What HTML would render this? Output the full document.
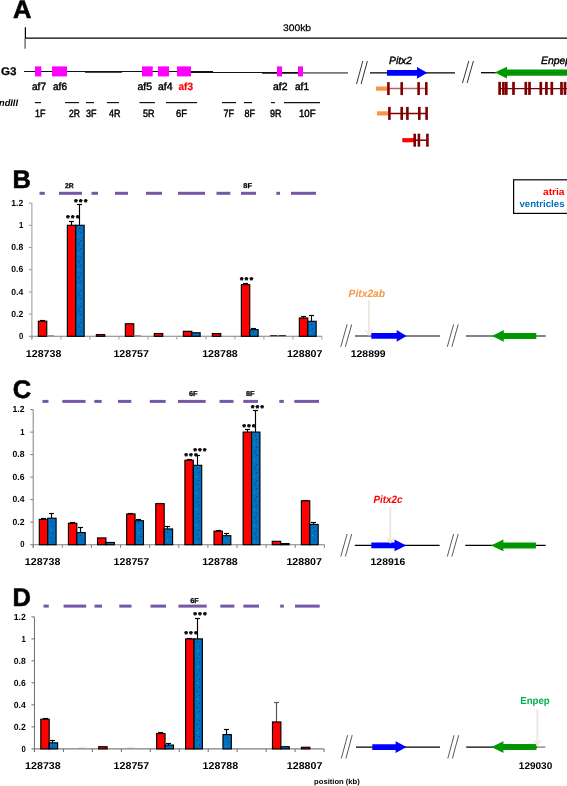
<!DOCTYPE html>
<html lang="en">
<head>
<meta charset="utf-8">
<title>Figure</title>
<style>
html,body{margin:0;padding:0;background:#fff;}
svg{display:block;font-family:"Liberation Sans", Arial, sans-serif;}
svg{will-change:transform;}
</style>
</head>
<body>
<svg width="567" height="786" viewBox="0 0 567 786" text-rendering="geometricPrecision">
<rect width="567" height="786" fill="#fff"/>
<text x="13.1" y="17.8" font-size="25.5" font-weight="bold" font-style="normal" fill="#000" text-anchor="start" stroke="#000" stroke-width="0.6">A</text>
<line x1="25.4" y1="27.3" x2="25.4" y2="38.5" stroke="#000" stroke-width="1.25"/>
<line x1="25.1" y1="38.5" x2="25.1" y2="48.7" stroke="#555" stroke-width="1.25"/>
<line x1="25.3" y1="38.2" x2="567" y2="38.2" stroke="#000" stroke-width="1.3"/>
<text x="283" y="31" font-size="9.5" font-weight="normal" font-style="normal" fill="#000" text-anchor="start" textLength="28" lengthAdjust="spacingAndGlyphs" stroke="#000" stroke-width="0.25">300kb</text>
<text x="1" y="75" font-size="11" font-weight="bold" font-style="normal" fill="#000" text-anchor="start" textLength="15.5" lengthAdjust="spacingAndGlyphs" stroke="#000" stroke-width="0.25">G3</text>
<line x1="24" y1="71.5" x2="213" y2="71.5" stroke="#111" stroke-width="1.1"/>
<line x1="85" y1="72.2" x2="122" y2="72.2" stroke="#111" stroke-width="1.2"/>
<line x1="190" y1="72.5" x2="300" y2="72.5" stroke="#111" stroke-width="1.2"/>
<line x1="262" y1="73.1" x2="300" y2="73.1" stroke="#111" stroke-width="1.3"/>
<line x1="300" y1="72.8" x2="348" y2="72.8" stroke="#777" stroke-width="1.8"/>
<rect x="35" y="66.4" width="6.3" height="10" fill="#ff00ff"/>
<rect x="52" y="66.4" width="15" height="10" fill="#ff00ff"/>
<rect x="142" y="66.4" width="10.7" height="10" fill="#ff00ff"/>
<rect x="158" y="66.4" width="11" height="10" fill="#ff00ff"/>
<rect x="177" y="66.4" width="14" height="10" fill="#ff00ff"/>
<rect x="277" y="66.4" width="5" height="10" fill="#ff00ff"/>
<rect x="298" y="66.4" width="5" height="10" fill="#ff00ff"/>
<text x="32" y="90" font-size="10.5" font-weight="normal" font-style="normal" fill="#000" text-anchor="start" textLength="14" lengthAdjust="spacingAndGlyphs" stroke="#000" stroke-width="0.45">af7</text>
<text x="53" y="90" font-size="10.5" font-weight="normal" font-style="normal" fill="#000" text-anchor="start" textLength="14" lengthAdjust="spacingAndGlyphs" stroke="#000" stroke-width="0.45">af6</text>
<text x="137.5" y="90" font-size="10.5" font-weight="normal" font-style="normal" fill="#000" text-anchor="start" textLength="14.5" lengthAdjust="spacingAndGlyphs" stroke="#000" stroke-width="0.45">af5</text>
<text x="158" y="90" font-size="10.5" font-weight="normal" font-style="normal" fill="#000" text-anchor="start" textLength="14.5" lengthAdjust="spacingAndGlyphs" stroke="#000" stroke-width="0.45">af4</text>
<text x="178.5" y="90" font-size="10.5" font-weight="bold" font-style="normal" fill="#f00" text-anchor="start" textLength="14.5" lengthAdjust="spacingAndGlyphs" stroke="#f00" stroke-width="0.2">af3</text>
<text x="273" y="90" font-size="10.5" font-weight="normal" font-style="normal" fill="#000" text-anchor="start" textLength="14.5" lengthAdjust="spacingAndGlyphs" stroke="#000" stroke-width="0.45">af2</text>
<text x="295" y="90" font-size="10.5" font-weight="normal" font-style="normal" fill="#000" text-anchor="start" textLength="14" lengthAdjust="spacingAndGlyphs" stroke="#000" stroke-width="0.45">af1</text>
<text x="-1" y="106" font-size="9.5" font-weight="bold" font-style="italic" fill="#000" text-anchor="start" textLength="19" lengthAdjust="spacingAndGlyphs">ndIII</text>
<line x1="35" y1="102.6" x2="41" y2="102.6" stroke="#111" stroke-width="1.2"/>
<line x1="65" y1="102.6" x2="79" y2="102.6" stroke="#111" stroke-width="1.2"/>
<line x1="86" y1="102.6" x2="94" y2="102.6" stroke="#111" stroke-width="1.2"/>
<line x1="107" y1="102.6" x2="119" y2="102.6" stroke="#111" stroke-width="1.2"/>
<line x1="139.5" y1="102.6" x2="155" y2="102.6" stroke="#111" stroke-width="1.2"/>
<line x1="166" y1="102.6" x2="197" y2="102.6" stroke="#111" stroke-width="1.2"/>
<line x1="222" y1="102.6" x2="236" y2="102.6" stroke="#111" stroke-width="1.2"/>
<line x1="244" y1="102.6" x2="252" y2="102.6" stroke="#111" stroke-width="1.2"/>
<line x1="271" y1="102.6" x2="275" y2="102.6" stroke="#111" stroke-width="1.2"/>
<line x1="284" y1="102.6" x2="320" y2="102.6" stroke="#111" stroke-width="1.2"/>
<text x="35" y="117" font-size="10.5" font-weight="normal" font-style="normal" fill="#000" text-anchor="start" textLength="10.5" lengthAdjust="spacingAndGlyphs" stroke="#000" stroke-width="0.45">1F</text>
<text x="69" y="117" font-size="10.5" font-weight="normal" font-style="normal" fill="#000" text-anchor="start" textLength="11" lengthAdjust="spacingAndGlyphs" stroke="#000" stroke-width="0.45">2R</text>
<text x="86" y="117" font-size="10.5" font-weight="normal" font-style="normal" fill="#000" text-anchor="start" textLength="10.5" lengthAdjust="spacingAndGlyphs" stroke="#000" stroke-width="0.45">3F</text>
<text x="109" y="117" font-size="10.5" font-weight="normal" font-style="normal" fill="#000" text-anchor="start" textLength="11.5" lengthAdjust="spacingAndGlyphs" stroke="#000" stroke-width="0.45">4R</text>
<text x="143" y="117" font-size="10.5" font-weight="normal" font-style="normal" fill="#000" text-anchor="start" textLength="11.5" lengthAdjust="spacingAndGlyphs" stroke="#000" stroke-width="0.45">5R</text>
<text x="176" y="117" font-size="10.5" font-weight="normal" font-style="normal" fill="#000" text-anchor="start" textLength="11" lengthAdjust="spacingAndGlyphs" stroke="#000" stroke-width="0.45">6F</text>
<text x="223.5" y="117" font-size="10.5" font-weight="normal" font-style="normal" fill="#000" text-anchor="start" textLength="10.5" lengthAdjust="spacingAndGlyphs" stroke="#000" stroke-width="0.45">7F</text>
<text x="244.5" y="117" font-size="10.5" font-weight="normal" font-style="normal" fill="#000" text-anchor="start" textLength="10.5" lengthAdjust="spacingAndGlyphs" stroke="#000" stroke-width="0.45">8F</text>
<text x="270" y="117" font-size="10.5" font-weight="normal" font-style="normal" fill="#000" text-anchor="start" textLength="11.5" lengthAdjust="spacingAndGlyphs" stroke="#000" stroke-width="0.45">9R</text>
<text x="299" y="117" font-size="10.5" font-weight="normal" font-style="normal" fill="#000" text-anchor="start" textLength="16.5" lengthAdjust="spacingAndGlyphs" stroke="#000" stroke-width="0.45">10F</text>
<line x1="356.5" y1="84" x2="362.8" y2="61" stroke="#111" stroke-width="0.85"/>
<line x1="361.1" y1="84" x2="367.40000000000003" y2="61" stroke="#111" stroke-width="0.85"/>
<line x1="462.5" y1="83" x2="468.8" y2="61" stroke="#111" stroke-width="0.85"/>
<line x1="467.1" y1="83" x2="473.40000000000003" y2="61" stroke="#111" stroke-width="0.85"/>
<line x1="370" y1="72.8" x2="455" y2="72.8" stroke="#000" stroke-width="1.3"/>
<polygon points="387,69.9 417,69.9 417,66.9 427.3,72.8 417,78.7 417,75.8 387,75.8" fill="#0000ff"/>
<text x="389" y="63.8" font-size="10.5" font-weight="normal" font-style="italic" fill="#000" text-anchor="start" textLength="23" lengthAdjust="spacingAndGlyphs" stroke="#000" stroke-width="0.4">Pitx2</text>
<line x1="481" y1="72.7" x2="496" y2="72.7" stroke="#000" stroke-width="1.3"/>
<polygon points="494.8,72.6 507,66.8 507,69.5 567,69.5 567,75.7 507,75.7 507,78.5" fill="#009900"/>
<line x1="507" y1="72.6" x2="567" y2="72.6" stroke="#0a5a0a" stroke-width="0.7" stroke-dasharray="1 1.6"/>
<text x="541" y="63.8" font-size="10.5" font-weight="normal" font-style="italic" fill="#000" text-anchor="start" textLength="30" lengthAdjust="spacingAndGlyphs" stroke="#000" stroke-width="0.4">Enpep</text>
<rect x="376" y="86.5" width="11.5" height="4.2" fill="#f79646"/>
<line x1="388" y1="88.6" x2="426" y2="88.6" stroke="#b86262" stroke-width="1.5"/>
<rect x="387.1" y="82.1" width="2.6" height="13.0" fill="#800000"/>
<rect x="400.4" y="82.1" width="2.6" height="13.0" fill="#800000"/>
<rect x="417.3" y="82.1" width="2.6" height="13.0" fill="#800000"/>
<rect x="425.0" y="82.1" width="2.6" height="13.0" fill="#800000"/>
<rect x="377" y="111.30000000000001" width="11.5" height="4.2" fill="#f79646"/>
<line x1="389" y1="113.4" x2="427" y2="113.4" stroke="#800000" stroke-width="1.5"/>
<rect x="388.1" y="106.9" width="2.6" height="13.0" fill="#800000"/>
<rect x="400.4" y="106.9" width="2.6" height="13.0" fill="#800000"/>
<rect x="406.1" y="106.9" width="2.6" height="13.0" fill="#800000"/>
<rect x="418.0" y="106.9" width="2.6" height="13.0" fill="#800000"/>
<rect x="425.3" y="106.9" width="2.6" height="13.0" fill="#800000"/>
<rect x="402.3" y="138.1" width="11.7" height="4.2" fill="#ff0000"/>
<line x1="414" y1="140.2" x2="427" y2="140.2" stroke="#800000" stroke-width="1.5"/>
<rect x="413.4" y="133.7" width="2.6" height="13.0" fill="#800000"/>
<rect x="417.6" y="133.7" width="2.6" height="13.0" fill="#800000"/>
<rect x="426.1" y="133.7" width="2.6" height="13.0" fill="#800000"/>
<line x1="499" y1="88.6" x2="567" y2="88.6" stroke="#800000" stroke-width="1.4"/>
<rect x="498.25" y="81.9" width="2.7" height="13" fill="#800000"/>
<rect x="502.05" y="81.9" width="2.7" height="13" fill="#800000"/>
<rect x="504.95" y="81.9" width="2.7" height="13" fill="#800000"/>
<rect x="512.15" y="81.9" width="2.7" height="13" fill="#800000"/>
<rect x="524.45" y="81.9" width="2.7" height="13" fill="#800000"/>
<rect x="528.15" y="81.9" width="2.7" height="13" fill="#800000"/>
<rect x="539.45" y="81.9" width="2.7" height="13" fill="#800000"/>
<rect x="545.05" y="81.9" width="2.7" height="13" fill="#800000"/>
<rect x="550.45" y="81.9" width="2.7" height="13" fill="#800000"/>
<rect x="560.15" y="81.9" width="2.7" height="13" fill="#800000"/>
<rect x="563.65" y="81.9" width="2.7" height="13" fill="#800000"/>
<rect x="513.6" y="179.8" width="60" height="33.6" fill="#fff" stroke="#000" stroke-width="1.2"/>
<text x="564.5" y="195.4" font-size="9.6" font-weight="bold" font-style="normal" fill="#ff0000" text-anchor="end" textLength="21.5" lengthAdjust="spacingAndGlyphs">atria</text>
<text x="564.5" y="206.6" font-size="9.6" font-weight="bold" font-style="normal" fill="#0070c0" text-anchor="end" textLength="45" lengthAdjust="spacingAndGlyphs">ventricles</text>
<text x="12.6" y="187.8" font-size="25.5" font-weight="bold" font-style="normal" fill="#000" text-anchor="start" stroke="#000" stroke-width="0.6">B</text>
<rect x="39.5" y="191.8" width="5.3" height="3" fill="#7559a6"/>
<rect x="59" y="191.8" width="23" height="3" fill="#7559a6"/>
<rect x="91.5" y="191.8" width="6.5" height="3" fill="#7559a6"/>
<rect x="115" y="191.8" width="13" height="3" fill="#7559a6"/>
<rect x="146" y="191.8" width="16" height="3" fill="#7559a6"/>
<rect x="178" y="191.8" width="27" height="3" fill="#7559a6"/>
<rect x="216.5" y="191.8" width="13.8" height="3" fill="#7559a6"/>
<rect x="241" y="191.8" width="15" height="3" fill="#7559a6"/>
<rect x="276.3" y="191.8" width="3.7" height="3" fill="#7559a6"/>
<rect x="291" y="191.8" width="25" height="3" fill="#7559a6"/>
<text x="65" y="187.5" font-size="7" font-weight="bold" font-style="normal" fill="#000" text-anchor="start" textLength="8.6" lengthAdjust="spacingAndGlyphs" stroke="#000" stroke-width="0.25">2R</text>
<text x="243.3" y="187.5" font-size="7" font-weight="bold" font-style="normal" fill="#000" text-anchor="start" textLength="8.6" lengthAdjust="spacingAndGlyphs" stroke="#000" stroke-width="0.25">8F</text>
<line x1="31.9" y1="203.1" x2="31.9" y2="339.5" stroke="#9a9a9a" stroke-width="1"/>
<line x1="28.9" y1="336.3" x2="321.9" y2="336.3" stroke="#7f7f7f" stroke-width="1.1"/>
<text x="23.2" y="339.0" font-size="8.8" font-weight="bold" font-style="normal" fill="#000" text-anchor="end" textLength="4.3" lengthAdjust="spacingAndGlyphs">0</text>
<line x1="28.9" y1="314.1" x2="31.9" y2="314.1" stroke="#9a9a9a" stroke-width="1"/>
<text x="23.2" y="316.8" font-size="8.8" font-weight="bold" font-style="normal" fill="#000" text-anchor="end" textLength="12" lengthAdjust="spacingAndGlyphs">0.2</text>
<line x1="28.9" y1="291.9" x2="31.9" y2="291.9" stroke="#9a9a9a" stroke-width="1"/>
<text x="23.2" y="294.6" font-size="8.8" font-weight="bold" font-style="normal" fill="#000" text-anchor="end" textLength="12" lengthAdjust="spacingAndGlyphs">0.4</text>
<line x1="28.9" y1="269.7" x2="31.9" y2="269.7" stroke="#9a9a9a" stroke-width="1"/>
<text x="23.2" y="272.4" font-size="8.8" font-weight="bold" font-style="normal" fill="#000" text-anchor="end" textLength="12" lengthAdjust="spacingAndGlyphs">0.6</text>
<line x1="28.9" y1="247.5" x2="31.9" y2="247.5" stroke="#9a9a9a" stroke-width="1"/>
<text x="23.2" y="250.2" font-size="8.8" font-weight="bold" font-style="normal" fill="#000" text-anchor="end" textLength="12" lengthAdjust="spacingAndGlyphs">0.8</text>
<line x1="28.9" y1="225.3" x2="31.9" y2="225.3" stroke="#9a9a9a" stroke-width="1"/>
<text x="23.2" y="228.0" font-size="8.8" font-weight="bold" font-style="normal" fill="#000" text-anchor="end" textLength="4.3" lengthAdjust="spacingAndGlyphs">1</text>
<line x1="28.9" y1="203.1" x2="31.9" y2="203.1" stroke="#9a9a9a" stroke-width="1"/>
<text x="23.2" y="205.8" font-size="8.8" font-weight="bold" font-style="normal" fill="#000" text-anchor="end" textLength="12" lengthAdjust="spacingAndGlyphs">1.2</text>
<line x1="31.9" y1="336.3" x2="31.9" y2="339.5" stroke="#9a9a9a" stroke-width="1"/>
<line x1="60.9" y1="336.3" x2="60.9" y2="339.5" stroke="#9a9a9a" stroke-width="1"/>
<line x1="89.9" y1="336.3" x2="89.9" y2="339.5" stroke="#9a9a9a" stroke-width="1"/>
<line x1="118.9" y1="336.3" x2="118.9" y2="339.5" stroke="#9a9a9a" stroke-width="1"/>
<line x1="147.9" y1="336.3" x2="147.9" y2="339.5" stroke="#9a9a9a" stroke-width="1"/>
<line x1="176.9" y1="336.3" x2="176.9" y2="339.5" stroke="#9a9a9a" stroke-width="1"/>
<line x1="205.9" y1="336.3" x2="205.9" y2="339.5" stroke="#9a9a9a" stroke-width="1"/>
<line x1="234.9" y1="336.3" x2="234.9" y2="339.5" stroke="#9a9a9a" stroke-width="1"/>
<line x1="263.9" y1="336.3" x2="263.9" y2="339.5" stroke="#9a9a9a" stroke-width="1"/>
<line x1="292.9" y1="336.3" x2="292.9" y2="339.5" stroke="#9a9a9a" stroke-width="1"/>
<line x1="321.9" y1="336.3" x2="321.9" y2="339.5" stroke="#9a9a9a" stroke-width="1"/>
<line x1="42.5" y1="320.5" x2="42.5" y2="321.2" stroke="#000" stroke-width="1.15"/>
<line x1="40.0" y1="320.5" x2="45.0" y2="320.5" stroke="#000" stroke-width="1.15"/>
<rect x="38.35" y="321.2" width="8.4" height="15.1" fill="#ff0000" stroke="#000" stroke-width="1.15"/>
<line x1="46.45" y1="335.7" x2="53.95" y2="335.7" stroke="#888" stroke-width="1"/>
<line x1="71.5" y1="221.5" x2="71.5" y2="225.3" stroke="#000" stroke-width="1.15"/>
<line x1="69.0" y1="221.5" x2="74.0" y2="221.5" stroke="#000" stroke-width="1.15"/>
<rect x="67.35" y="225.3" width="8.4" height="111.0" fill="#ff0000" stroke="#000" stroke-width="1.15"/>
<line x1="79.5" y1="204.5" x2="79.5" y2="225.3" stroke="#000" stroke-width="1.15"/>
<line x1="77.0" y1="204.5" x2="82.0" y2="204.5" stroke="#000" stroke-width="1.15"/>
<rect x="75.75" y="225.3" width="8.4" height="111.0" fill="#0070c0" stroke="#000" stroke-width="1.15"/>
<rect x="79.05" y="228.05" width="1" height="1" fill="#173250"/><rect x="80.05" y="232.05" width="1" height="1" fill="#173250"/><rect x="78.05" y="236.05" width="1" height="1" fill="#6a98c4"/><rect x="80.05" y="240.05" width="1" height="1" fill="#173250"/><rect x="79.05" y="244.05" width="1" height="1" fill="#173250"/><rect x="80.05" y="248.05" width="1" height="1" fill="#173250"/><rect x="78.05" y="253.05" width="1" height="1" fill="#6a98c4"/><rect x="80.05" y="257.05" width="1" height="1" fill="#173250"/><rect x="79.05" y="261.05" width="1" height="1" fill="#173250"/><rect x="80.05" y="265.05" width="1" height="1" fill="#173250"/><rect x="78.05" y="269.05" width="1" height="1" fill="#6a98c4"/><rect x="80.05" y="273.05" width="1" height="1" fill="#173250"/><rect x="79.05" y="277.05" width="1" height="1" fill="#173250"/><rect x="80.05" y="281.05" width="1" height="1" fill="#173250"/><rect x="78.05" y="285.05" width="1" height="1" fill="#6a98c4"/><rect x="80.05" y="290.05" width="1" height="1" fill="#173250"/><rect x="79.05" y="294.05" width="1" height="1" fill="#173250"/><rect x="80.05" y="298.05" width="1" height="1" fill="#173250"/><rect x="78.05" y="302.05" width="1" height="1" fill="#6a98c4"/><rect x="80.05" y="306.05" width="1" height="1" fill="#173250"/><rect x="79.05" y="310.05" width="1" height="1" fill="#173250"/><rect x="80.05" y="314.05" width="1" height="1" fill="#173250"/><rect x="78.05" y="318.05" width="1" height="1" fill="#6a98c4"/><rect x="80.05" y="322.05" width="1" height="1" fill="#173250"/><rect x="79.05" y="326.05" width="1" height="1" fill="#173250"/><rect x="80.05" y="331.05" width="1" height="1" fill="#173250"/>
<rect x="96.35" y="334.63" width="8.4" height="1.67" fill="#ff0000" stroke="#000" stroke-width="1.15"/>
<rect x="125.35" y="323.76" width="8.4" height="12.54" fill="#ff0000" stroke="#000" stroke-width="1.15"/>
<line x1="133.45" y1="335.7" x2="140.95" y2="335.7" stroke="#888" stroke-width="1"/>
<rect x="154.35" y="333.53" width="8.4" height="2.78" fill="#ff0000" stroke="#000" stroke-width="1.15"/>
<rect x="183.35" y="331.31" width="8.4" height="5.0" fill="#ff0000" stroke="#000" stroke-width="1.15"/>
<rect x="191.75" y="332.75" width="8.4" height="3.55" fill="#0070c0" stroke="#000" stroke-width="1.15"/>
<rect x="212.35" y="333.53" width="8.4" height="2.78" fill="#ff0000" stroke="#000" stroke-width="1.15"/>
<line x1="245.5" y1="283.5" x2="245.5" y2="284.69" stroke="#000" stroke-width="1.15"/>
<line x1="243.0" y1="283.5" x2="248.0" y2="283.5" stroke="#000" stroke-width="1.15"/>
<rect x="241.35" y="284.69" width="8.4" height="51.62" fill="#ff0000" stroke="#000" stroke-width="1.15"/>
<line x1="253.5" y1="328.5" x2="253.5" y2="329.64" stroke="#000" stroke-width="1.15"/>
<line x1="251.0" y1="328.5" x2="256.0" y2="328.5" stroke="#000" stroke-width="1.15"/>
<rect x="249.75" y="329.64" width="8.4" height="6.66" fill="#0070c0" stroke="#000" stroke-width="1.15"/>
<rect x="253.05" y="332.05" width="1" height="1" fill="#173250"/>
<line x1="270.05" y1="335.7" x2="277.55" y2="335.7" stroke="#111" stroke-width="1"/>
<line x1="278.45" y1="335.7" x2="285.95" y2="335.7" stroke="#111" stroke-width="1"/>
<line x1="303.5" y1="316.5" x2="303.5" y2="317.99" stroke="#000" stroke-width="1.15"/>
<line x1="301.0" y1="316.5" x2="306.0" y2="316.5" stroke="#000" stroke-width="1.15"/>
<rect x="299.35" y="317.99" width="8.4" height="18.32" fill="#ff0000" stroke="#000" stroke-width="1.15"/>
<line x1="311.5" y1="315.5" x2="311.5" y2="321.31" stroke="#000" stroke-width="1.15"/>
<line x1="309.0" y1="315.5" x2="314.0" y2="315.5" stroke="#000" stroke-width="1.15"/>
<rect x="307.75" y="321.31" width="8.4" height="14.99" fill="#0070c0" stroke="#000" stroke-width="1.15"/>
<rect x="311.05" y="324.05" width="1" height="1" fill="#173250"/><rect x="312.05" y="328.05" width="1" height="1" fill="#173250"/><rect x="310.05" y="332.05" width="1" height="1" fill="#6a98c4"/>
<text x="66.2" y="221.2" font-size="8.5" font-weight="bold" textLength="13" lengthAdjust="spacing" stroke="#000" stroke-width="0.55" stroke-linejoin="round">***</text>
<text x="74.2" y="204.7" font-size="8.5" font-weight="bold" textLength="13" lengthAdjust="spacing" stroke="#000" stroke-width="0.55" stroke-linejoin="round">***</text>
<text x="240.0" y="283.2" font-size="8.5" font-weight="bold" textLength="13" lengthAdjust="spacing" stroke="#000" stroke-width="0.55" stroke-linejoin="round">***</text>
<text x="25.8" y="356.5" font-size="10" font-weight="bold" font-style="normal" fill="#000" text-anchor="start" textLength="35.6" lengthAdjust="spacingAndGlyphs">128738</text>
<text x="113.4" y="356.5" font-size="10" font-weight="bold" font-style="normal" fill="#000" text-anchor="start" textLength="35.6" lengthAdjust="spacingAndGlyphs">128757</text>
<text x="202.2" y="356.5" font-size="10" font-weight="bold" font-style="normal" fill="#000" text-anchor="start" textLength="35.6" lengthAdjust="spacingAndGlyphs">128788</text>
<text x="286.9" y="356.5" font-size="10" font-weight="bold" font-style="normal" fill="#000" text-anchor="start" textLength="35.6" lengthAdjust="spacingAndGlyphs">128807</text>
<text x="12.799999999999999" y="398.40000000000003" font-size="25.5" font-weight="bold" font-style="normal" fill="#000" text-anchor="start" stroke="#000" stroke-width="0.6">C</text>
<rect x="42.4" y="399.9" width="6.1" height="3" fill="#7559a6"/>
<rect x="62.3" y="399.9" width="23.3" height="3" fill="#7559a6"/>
<rect x="94.3" y="399.9" width="7.4" height="3" fill="#7559a6"/>
<rect x="118" y="399.9" width="13.3" height="3" fill="#7559a6"/>
<rect x="149.8" y="399.9" width="15.9" height="3" fill="#7559a6"/>
<rect x="178" y="399.9" width="27.7" height="3" fill="#7559a6"/>
<rect x="219.5" y="399.9" width="14.0" height="3" fill="#7559a6"/>
<rect x="243.3" y="399.9" width="14.7" height="3" fill="#7559a6"/>
<rect x="279.3" y="399.9" width="4.5" height="3" fill="#7559a6"/>
<rect x="294.3" y="399.9" width="24.7" height="3" fill="#7559a6"/>
<text x="189" y="395.6" font-size="7" font-weight="bold" font-style="normal" fill="#000" text-anchor="start" textLength="8.6" lengthAdjust="spacingAndGlyphs" stroke="#000" stroke-width="0.25">6F</text>
<text x="246" y="395.6" font-size="7" font-weight="bold" font-style="normal" fill="#000" text-anchor="start" textLength="8.6" lengthAdjust="spacingAndGlyphs" stroke="#000" stroke-width="0.25">8F</text>
<line x1="33.2" y1="409.58" x2="33.2" y2="547.9000000000001" stroke="#808080" stroke-width="1"/>
<line x1="30.200000000000003" y1="544.7" x2="324.4" y2="544.7" stroke="#7f7f7f" stroke-width="1.1"/>
<text x="24.5" y="547.4" font-size="8.8" font-weight="bold" font-style="normal" fill="#000" text-anchor="end" textLength="4.3" lengthAdjust="spacingAndGlyphs">0</text>
<line x1="30.200000000000003" y1="522.18" x2="33.2" y2="522.18" stroke="#808080" stroke-width="1"/>
<text x="24.5" y="524.9" font-size="8.8" font-weight="bold" font-style="normal" fill="#000" text-anchor="end" textLength="12" lengthAdjust="spacingAndGlyphs">0.2</text>
<line x1="30.200000000000003" y1="499.66" x2="33.2" y2="499.66" stroke="#808080" stroke-width="1"/>
<text x="24.5" y="502.4" font-size="8.8" font-weight="bold" font-style="normal" fill="#000" text-anchor="end" textLength="12" lengthAdjust="spacingAndGlyphs">0.4</text>
<line x1="30.200000000000003" y1="477.14" x2="33.2" y2="477.14" stroke="#808080" stroke-width="1"/>
<text x="24.5" y="479.8" font-size="8.8" font-weight="bold" font-style="normal" fill="#000" text-anchor="end" textLength="12" lengthAdjust="spacingAndGlyphs">0.6</text>
<line x1="30.200000000000003" y1="454.62" x2="33.2" y2="454.62" stroke="#808080" stroke-width="1"/>
<text x="24.5" y="457.3" font-size="8.8" font-weight="bold" font-style="normal" fill="#000" text-anchor="end" textLength="12" lengthAdjust="spacingAndGlyphs">0.8</text>
<line x1="30.200000000000003" y1="432.1" x2="33.2" y2="432.1" stroke="#808080" stroke-width="1"/>
<text x="24.5" y="434.8" font-size="8.8" font-weight="bold" font-style="normal" fill="#000" text-anchor="end" textLength="4.3" lengthAdjust="spacingAndGlyphs">1</text>
<line x1="30.200000000000003" y1="409.58" x2="33.2" y2="409.58" stroke="#808080" stroke-width="1"/>
<text x="24.5" y="412.3" font-size="8.8" font-weight="bold" font-style="normal" fill="#000" text-anchor="end" textLength="12" lengthAdjust="spacingAndGlyphs">1.2</text>
<line x1="33.2" y1="544.7" x2="33.2" y2="547.9000000000001" stroke="#808080" stroke-width="1"/>
<line x1="62.32" y1="544.7" x2="62.32" y2="547.9000000000001" stroke="#808080" stroke-width="1"/>
<line x1="91.44" y1="544.7" x2="91.44" y2="547.9000000000001" stroke="#808080" stroke-width="1"/>
<line x1="120.56" y1="544.7" x2="120.56" y2="547.9000000000001" stroke="#808080" stroke-width="1"/>
<line x1="149.68" y1="544.7" x2="149.68" y2="547.9000000000001" stroke="#808080" stroke-width="1"/>
<line x1="178.8" y1="544.7" x2="178.8" y2="547.9000000000001" stroke="#808080" stroke-width="1"/>
<line x1="207.92" y1="544.7" x2="207.92" y2="547.9000000000001" stroke="#808080" stroke-width="1"/>
<line x1="237.04" y1="544.7" x2="237.04" y2="547.9000000000001" stroke="#808080" stroke-width="1"/>
<line x1="266.16" y1="544.7" x2="266.16" y2="547.9000000000001" stroke="#808080" stroke-width="1"/>
<line x1="295.28" y1="544.7" x2="295.28" y2="547.9000000000001" stroke="#808080" stroke-width="1"/>
<line x1="324.4" y1="544.7" x2="324.4" y2="547.9000000000001" stroke="#808080" stroke-width="1"/>
<line x1="43.5" y1="518.5" x2="43.5" y2="519.37" stroke="#000" stroke-width="1.15"/>
<line x1="41.0" y1="518.5" x2="46.0" y2="518.5" stroke="#000" stroke-width="1.15"/>
<rect x="39.3" y="519.37" width="8.4" height="25.34" fill="#ff0000" stroke="#000" stroke-width="1.15"/>
<line x1="51.5" y1="513.5" x2="51.5" y2="518.24" stroke="#000" stroke-width="1.15"/>
<line x1="49.0" y1="513.5" x2="54.0" y2="513.5" stroke="#000" stroke-width="1.15"/>
<rect x="47.7" y="518.24" width="8.4" height="26.46" fill="#0070c0" stroke="#000" stroke-width="1.15"/>
<rect x="51.05" y="521.05" width="1" height="1" fill="#173250"/><rect x="52.05" y="525.05" width="1" height="1" fill="#173250"/><rect x="50.05" y="529.05" width="1" height="1" fill="#6a98c4"/><rect x="52.05" y="533.05" width="1" height="1" fill="#173250"/><rect x="51.05" y="537.05" width="1" height="1" fill="#173250"/><rect x="52.05" y="541.05" width="1" height="1" fill="#173250"/>
<line x1="72.5" y1="522.5" x2="72.5" y2="523.31" stroke="#000" stroke-width="1.15"/>
<line x1="70.0" y1="522.5" x2="75.0" y2="522.5" stroke="#000" stroke-width="1.15"/>
<rect x="68.42" y="523.31" width="8.4" height="21.39" fill="#ff0000" stroke="#000" stroke-width="1.15"/>
<line x1="80.5" y1="527.5" x2="80.5" y2="532.54" stroke="#000" stroke-width="1.15"/>
<line x1="78.0" y1="527.5" x2="83.0" y2="527.5" stroke="#000" stroke-width="1.15"/>
<rect x="76.82" y="532.54" width="8.4" height="12.16" fill="#0070c0" stroke="#000" stroke-width="1.15"/>
<rect x="80.05" y="535.05" width="1" height="1" fill="#173250"/><rect x="81.05" y="539.05" width="1" height="1" fill="#173250"/>
<rect x="97.54" y="537.94" width="8.4" height="6.76" fill="#ff0000" stroke="#000" stroke-width="1.15"/>
<rect x="105.94" y="542.45" width="8.4" height="2.25" fill="#0070c0" stroke="#000" stroke-width="1.15"/>
<line x1="130.5" y1="513.5" x2="130.5" y2="513.96" stroke="#000" stroke-width="1.15"/>
<line x1="128.0" y1="513.5" x2="133.0" y2="513.5" stroke="#000" stroke-width="1.15"/>
<rect x="126.66" y="513.96" width="8.4" height="30.74" fill="#ff0000" stroke="#000" stroke-width="1.15"/>
<line x1="138.5" y1="519.5" x2="138.5" y2="520.72" stroke="#000" stroke-width="1.15"/>
<line x1="136.0" y1="519.5" x2="141.0" y2="519.5" stroke="#000" stroke-width="1.15"/>
<rect x="135.06" y="520.72" width="8.4" height="23.98" fill="#0070c0" stroke="#000" stroke-width="1.15"/>
<rect x="138.05" y="523.05" width="1" height="1" fill="#173250"/><rect x="140.05" y="528.05" width="1" height="1" fill="#173250"/><rect x="138.05" y="532.05" width="1" height="1" fill="#6a98c4"/><rect x="140.05" y="536.05" width="1" height="1" fill="#173250"/><rect x="138.05" y="540.05" width="1" height="1" fill="#173250"/>
<line x1="159.5" y1="503.5" x2="159.5" y2="503.6" stroke="#000" stroke-width="1.15"/>
<line x1="157.0" y1="503.5" x2="162.0" y2="503.5" stroke="#000" stroke-width="1.15"/>
<rect x="155.78" y="503.6" width="8.4" height="41.1" fill="#ff0000" stroke="#000" stroke-width="1.15"/>
<line x1="167.5" y1="526.5" x2="167.5" y2="528.94" stroke="#000" stroke-width="1.15"/>
<line x1="165.0" y1="526.5" x2="170.0" y2="526.5" stroke="#000" stroke-width="1.15"/>
<rect x="164.18" y="528.94" width="8.4" height="15.76" fill="#0070c0" stroke="#000" stroke-width="1.15"/>
<rect x="167.05" y="532.05" width="1" height="1" fill="#173250"/><rect x="169.05" y="536.05" width="1" height="1" fill="#173250"/><rect x="167.05" y="540.05" width="1" height="1" fill="#6a98c4"/>
<line x1="189.5" y1="459.5" x2="189.5" y2="460.25" stroke="#000" stroke-width="1.15"/>
<line x1="187.0" y1="459.5" x2="192.0" y2="459.5" stroke="#000" stroke-width="1.15"/>
<rect x="184.9" y="460.25" width="8.4" height="84.45" fill="#ff0000" stroke="#000" stroke-width="1.15"/>
<line x1="197.5" y1="455.5" x2="197.5" y2="465.32" stroke="#000" stroke-width="1.15"/>
<line x1="195.0" y1="455.5" x2="200.0" y2="455.5" stroke="#000" stroke-width="1.15"/>
<rect x="193.3" y="465.32" width="8.4" height="79.38" fill="#0070c0" stroke="#000" stroke-width="1.15"/>
<rect x="197.05" y="468.05" width="1" height="1" fill="#173250"/><rect x="198.05" y="472.05" width="1" height="1" fill="#173250"/><rect x="196.05" y="476.05" width="1" height="1" fill="#6a98c4"/><rect x="198.05" y="480.05" width="1" height="1" fill="#173250"/><rect x="197.05" y="484.05" width="1" height="1" fill="#173250"/><rect x="198.05" y="489.05" width="1" height="1" fill="#173250"/><rect x="196.05" y="493.05" width="1" height="1" fill="#6a98c4"/><rect x="198.05" y="497.05" width="1" height="1" fill="#173250"/><rect x="197.05" y="501.05" width="1" height="1" fill="#173250"/><rect x="198.05" y="505.05" width="1" height="1" fill="#173250"/><rect x="196.05" y="509.05" width="1" height="1" fill="#6a98c4"/><rect x="198.05" y="513.05" width="1" height="1" fill="#173250"/><rect x="197.05" y="517.05" width="1" height="1" fill="#173250"/><rect x="198.05" y="521.05" width="1" height="1" fill="#173250"/><rect x="196.05" y="525.05" width="1" height="1" fill="#6a98c4"/><rect x="198.05" y="530.05" width="1" height="1" fill="#173250"/><rect x="197.05" y="534.05" width="1" height="1" fill="#173250"/><rect x="198.05" y="538.05" width="1" height="1" fill="#173250"/><rect x="196.05" y="542.05" width="1" height="1" fill="#6a98c4"/>
<line x1="218.5" y1="530.5" x2="218.5" y2="531.19" stroke="#000" stroke-width="1.15"/>
<line x1="216.0" y1="530.5" x2="221.0" y2="530.5" stroke="#000" stroke-width="1.15"/>
<rect x="214.02" y="531.19" width="8.4" height="13.51" fill="#ff0000" stroke="#000" stroke-width="1.15"/>
<line x1="226.5" y1="533.5" x2="226.5" y2="535.69" stroke="#000" stroke-width="1.15"/>
<line x1="224.0" y1="533.5" x2="229.0" y2="533.5" stroke="#000" stroke-width="1.15"/>
<rect x="222.42" y="535.69" width="8.4" height="9.01" fill="#0070c0" stroke="#000" stroke-width="1.15"/>
<rect x="226.05" y="538.05" width="1" height="1" fill="#173250"/>
<line x1="247.5" y1="429.5" x2="247.5" y2="432.1" stroke="#000" stroke-width="1.15"/>
<line x1="245.0" y1="429.5" x2="250.0" y2="429.5" stroke="#000" stroke-width="1.15"/>
<rect x="243.14" y="432.1" width="8.4" height="112.6" fill="#ff0000" stroke="#000" stroke-width="1.15"/>
<line x1="255.5" y1="410.5" x2="255.5" y2="432.1" stroke="#000" stroke-width="1.15"/>
<line x1="253.0" y1="410.5" x2="258.0" y2="410.5" stroke="#000" stroke-width="1.15"/>
<rect x="251.54" y="432.1" width="8.4" height="112.6" fill="#0070c0" stroke="#000" stroke-width="1.15"/>
<rect x="255.05" y="435.05" width="1" height="1" fill="#173250"/><rect x="256.05" y="439.05" width="1" height="1" fill="#173250"/><rect x="254.05" y="443.05" width="1" height="1" fill="#6a98c4"/><rect x="256.05" y="447.05" width="1" height="1" fill="#173250"/><rect x="255.05" y="451.05" width="1" height="1" fill="#173250"/><rect x="256.05" y="455.05" width="1" height="1" fill="#173250"/><rect x="254.05" y="459.05" width="1" height="1" fill="#6a98c4"/><rect x="256.05" y="464.05" width="1" height="1" fill="#173250"/><rect x="255.05" y="468.05" width="1" height="1" fill="#173250"/><rect x="256.05" y="472.05" width="1" height="1" fill="#173250"/><rect x="254.05" y="476.05" width="1" height="1" fill="#6a98c4"/><rect x="256.05" y="480.05" width="1" height="1" fill="#173250"/><rect x="255.05" y="484.05" width="1" height="1" fill="#173250"/><rect x="256.05" y="488.05" width="1" height="1" fill="#173250"/><rect x="254.05" y="492.05" width="1" height="1" fill="#6a98c4"/><rect x="256.05" y="496.05" width="1" height="1" fill="#173250"/><rect x="255.05" y="500.05" width="1" height="1" fill="#173250"/><rect x="256.05" y="505.05" width="1" height="1" fill="#173250"/><rect x="254.05" y="509.05" width="1" height="1" fill="#6a98c4"/><rect x="256.05" y="513.05" width="1" height="1" fill="#173250"/><rect x="255.05" y="517.05" width="1" height="1" fill="#173250"/><rect x="256.05" y="521.05" width="1" height="1" fill="#173250"/><rect x="254.05" y="525.05" width="1" height="1" fill="#6a98c4"/><rect x="256.05" y="529.05" width="1" height="1" fill="#173250"/><rect x="255.05" y="533.05" width="1" height="1" fill="#173250"/><rect x="256.05" y="537.05" width="1" height="1" fill="#173250"/><rect x="254.05" y="541.05" width="1" height="1" fill="#6a98c4"/>
<rect x="272.26" y="541.32" width="8.4" height="3.38" fill="#ff0000" stroke="#000" stroke-width="1.15"/>
<rect x="280.66" y="543.57" width="8.4" height="1.13" fill="#0070c0" stroke="#000" stroke-width="1.15"/>
<line x1="305.5" y1="500.5" x2="305.5" y2="500.79" stroke="#000" stroke-width="1.15"/>
<line x1="303.0" y1="500.5" x2="308.0" y2="500.5" stroke="#000" stroke-width="1.15"/>
<rect x="301.38" y="500.79" width="8.4" height="43.91" fill="#ff0000" stroke="#000" stroke-width="1.15"/>
<line x1="313.5" y1="522.5" x2="313.5" y2="524.43" stroke="#000" stroke-width="1.15"/>
<line x1="311.0" y1="522.5" x2="316.0" y2="522.5" stroke="#000" stroke-width="1.15"/>
<rect x="309.78" y="524.43" width="8.4" height="20.27" fill="#0070c0" stroke="#000" stroke-width="1.15"/>
<rect x="313.05" y="527.05" width="1" height="1" fill="#173250"/><rect x="314.05" y="531.05" width="1" height="1" fill="#173250"/><rect x="312.05" y="535.05" width="1" height="1" fill="#6a98c4"/><rect x="314.05" y="539.05" width="1" height="1" fill="#173250"/>
<text x="184.5" y="458.5" font-size="8.5" font-weight="bold" textLength="13" lengthAdjust="spacing" stroke="#000" stroke-width="0.55" stroke-linejoin="round">***</text>
<text x="193.4" y="453.7" font-size="8.5" font-weight="bold" textLength="13" lengthAdjust="spacing" stroke="#000" stroke-width="0.55" stroke-linejoin="round">***</text>
<text x="242.4" y="429.7" font-size="8.5" font-weight="bold" textLength="13" lengthAdjust="spacing" stroke="#000" stroke-width="0.55" stroke-linejoin="round">***</text>
<text x="250.9" y="411.0" font-size="8.5" font-weight="bold" textLength="13" lengthAdjust="spacing" stroke="#000" stroke-width="0.55" stroke-linejoin="round">***</text>
<text x="24.8" y="564.6" font-size="10" font-weight="bold" font-style="normal" fill="#000" text-anchor="start" textLength="35.6" lengthAdjust="spacingAndGlyphs">128738</text>
<text x="113.6" y="564.6" font-size="10" font-weight="bold" font-style="normal" fill="#000" text-anchor="start" textLength="35.6" lengthAdjust="spacingAndGlyphs">128757</text>
<text x="202.2" y="564.6" font-size="10" font-weight="bold" font-style="normal" fill="#000" text-anchor="start" textLength="35.6" lengthAdjust="spacingAndGlyphs">128788</text>
<text x="286.4" y="564.6" font-size="10" font-weight="bold" font-style="normal" fill="#000" text-anchor="start" textLength="35.6" lengthAdjust="spacingAndGlyphs">128807</text>
<text x="12.6" y="605.6999999999999" font-size="25.5" font-weight="bold" font-style="normal" fill="#000" text-anchor="start" stroke="#000" stroke-width="0.6">D</text>
<rect x="43.5" y="604.6" width="5.3" height="3" fill="#7559a6"/>
<rect x="63.6" y="604.6" width="22.6" height="3" fill="#7559a6"/>
<rect x="94.5" y="604.6" width="7.5" height="3" fill="#7559a6"/>
<rect x="119.3" y="604.6" width="12.2" height="3" fill="#7559a6"/>
<rect x="150.5" y="604.6" width="15.5" height="3" fill="#7559a6"/>
<rect x="178.5" y="604.6" width="28.2" height="3" fill="#7559a6"/>
<rect x="220.3" y="604.6" width="14.1" height="3" fill="#7559a6"/>
<rect x="243.4" y="604.6" width="15.6" height="3" fill="#7559a6"/>
<rect x="280.2" y="604.6" width="3.6" height="3" fill="#7559a6"/>
<rect x="295" y="604.6" width="24.7" height="3" fill="#7559a6"/>
<text x="190.2" y="603.3" font-size="7" font-weight="bold" font-style="normal" fill="#000" text-anchor="start" textLength="8.6" lengthAdjust="spacingAndGlyphs" stroke="#000" stroke-width="0.25">6F</text>
<line x1="34.45" y1="616.9" x2="34.45" y2="752.1" stroke="#6e6e6e" stroke-width="1"/>
<line x1="31.450000000000003" y1="748.9" x2="324.05" y2="748.9" stroke="#7f7f7f" stroke-width="1.1"/>
<text x="25.75" y="751.6" font-size="8.8" font-weight="bold" font-style="normal" fill="#000" text-anchor="end" textLength="4.3" lengthAdjust="spacingAndGlyphs">0</text>
<line x1="31.450000000000003" y1="726.9" x2="34.45" y2="726.9" stroke="#6e6e6e" stroke-width="1"/>
<text x="25.75" y="729.6" font-size="8.8" font-weight="bold" font-style="normal" fill="#000" text-anchor="end" textLength="12" lengthAdjust="spacingAndGlyphs">0.2</text>
<line x1="31.450000000000003" y1="704.9" x2="34.45" y2="704.9" stroke="#6e6e6e" stroke-width="1"/>
<text x="25.75" y="707.6" font-size="8.8" font-weight="bold" font-style="normal" fill="#000" text-anchor="end" textLength="12" lengthAdjust="spacingAndGlyphs">0.4</text>
<line x1="31.450000000000003" y1="682.9" x2="34.45" y2="682.9" stroke="#6e6e6e" stroke-width="1"/>
<text x="25.75" y="685.6" font-size="8.8" font-weight="bold" font-style="normal" fill="#000" text-anchor="end" textLength="12" lengthAdjust="spacingAndGlyphs">0.6</text>
<line x1="31.450000000000003" y1="660.9" x2="34.45" y2="660.9" stroke="#6e6e6e" stroke-width="1"/>
<text x="25.75" y="663.6" font-size="8.8" font-weight="bold" font-style="normal" fill="#000" text-anchor="end" textLength="12" lengthAdjust="spacingAndGlyphs">0.8</text>
<line x1="31.450000000000003" y1="638.9" x2="34.45" y2="638.9" stroke="#6e6e6e" stroke-width="1"/>
<text x="25.75" y="641.6" font-size="8.8" font-weight="bold" font-style="normal" fill="#000" text-anchor="end" textLength="4.3" lengthAdjust="spacingAndGlyphs">1</text>
<line x1="31.450000000000003" y1="616.9" x2="34.45" y2="616.9" stroke="#6e6e6e" stroke-width="1"/>
<text x="25.75" y="619.6" font-size="8.8" font-weight="bold" font-style="normal" fill="#000" text-anchor="end" textLength="12" lengthAdjust="spacingAndGlyphs">1.2</text>
<line x1="34.45" y1="748.9" x2="34.45" y2="752.1" stroke="#6e6e6e" stroke-width="1"/>
<line x1="63.41" y1="748.9" x2="63.41" y2="752.1" stroke="#6e6e6e" stroke-width="1"/>
<line x1="92.37" y1="748.9" x2="92.37" y2="752.1" stroke="#6e6e6e" stroke-width="1"/>
<line x1="121.33" y1="748.9" x2="121.33" y2="752.1" stroke="#6e6e6e" stroke-width="1"/>
<line x1="150.29" y1="748.9" x2="150.29" y2="752.1" stroke="#6e6e6e" stroke-width="1"/>
<line x1="179.25" y1="748.9" x2="179.25" y2="752.1" stroke="#6e6e6e" stroke-width="1"/>
<line x1="208.21" y1="748.9" x2="208.21" y2="752.1" stroke="#6e6e6e" stroke-width="1"/>
<line x1="237.17" y1="748.9" x2="237.17" y2="752.1" stroke="#6e6e6e" stroke-width="1"/>
<line x1="266.13" y1="748.9" x2="266.13" y2="752.1" stroke="#6e6e6e" stroke-width="1"/>
<line x1="295.09" y1="748.9" x2="295.09" y2="752.1" stroke="#6e6e6e" stroke-width="1"/>
<line x1="324.05" y1="748.9" x2="324.05" y2="752.1" stroke="#6e6e6e" stroke-width="1"/>
<line x1="45.5" y1="718.5" x2="45.5" y2="719.2" stroke="#000" stroke-width="1.15"/>
<line x1="43.0" y1="718.5" x2="48.0" y2="718.5" stroke="#000" stroke-width="1.15"/>
<rect x="40.8" y="719.2" width="8.4" height="29.7" fill="#ff0000" stroke="#000" stroke-width="1.15"/>
<line x1="52.5" y1="740.5" x2="52.5" y2="742.85" stroke="#000" stroke-width="1.15"/>
<line x1="50.0" y1="740.5" x2="55.0" y2="740.5" stroke="#000" stroke-width="1.15"/>
<rect x="49.2" y="742.85" width="8.4" height="6.05" fill="#0070c0" stroke="#000" stroke-width="1.15"/>
<rect x="52.05" y="746.05" width="1" height="1" fill="#173250"/>
<line x1="77.86" y1="748.3" x2="85.36" y2="748.3" stroke="#999" stroke-width="1"/>
<rect x="98.72" y="746.7" width="8.4" height="2.2" fill="#ff0000" stroke="#000" stroke-width="1.15"/>
<line x1="127.38" y1="748.3" x2="134.88" y2="748.3" stroke="#999" stroke-width="1"/>
<line x1="160.5" y1="732.5" x2="160.5" y2="733.5" stroke="#000" stroke-width="1.15"/>
<line x1="158.0" y1="732.5" x2="163.0" y2="732.5" stroke="#000" stroke-width="1.15"/>
<rect x="156.64" y="733.5" width="8.4" height="15.4" fill="#ff0000" stroke="#000" stroke-width="1.15"/>
<line x1="168.5" y1="743.5" x2="168.5" y2="745.05" stroke="#000" stroke-width="1.15"/>
<line x1="166.0" y1="743.5" x2="171.0" y2="743.5" stroke="#000" stroke-width="1.15"/>
<rect x="165.04" y="745.05" width="8.4" height="3.85" fill="#0070c0" stroke="#000" stroke-width="1.15"/>
<line x1="189.5" y1="638.5" x2="189.5" y2="638.9" stroke="#000" stroke-width="1.15"/>
<line x1="187.0" y1="638.5" x2="192.0" y2="638.5" stroke="#000" stroke-width="1.15"/>
<rect x="185.6" y="638.9" width="8.4" height="110.0" fill="#ff0000" stroke="#000" stroke-width="1.15"/>
<line x1="197.5" y1="618.5" x2="197.5" y2="638.9" stroke="#000" stroke-width="1.15"/>
<line x1="195.0" y1="618.5" x2="200.0" y2="618.5" stroke="#000" stroke-width="1.15"/>
<rect x="194.0" y="638.9" width="8.4" height="110.0" fill="#0070c0" stroke="#000" stroke-width="1.15"/>
<rect x="197.05" y="642.05" width="1" height="1" fill="#173250"/><rect x="199.05" y="646.05" width="1" height="1" fill="#173250"/><rect x="197.05" y="650.05" width="1" height="1" fill="#6a98c4"/><rect x="199.05" y="654.05" width="1" height="1" fill="#173250"/><rect x="197.05" y="658.05" width="1" height="1" fill="#173250"/><rect x="199.05" y="662.05" width="1" height="1" fill="#173250"/><rect x="197.05" y="666.05" width="1" height="1" fill="#6a98c4"/><rect x="199.05" y="670.05" width="1" height="1" fill="#173250"/><rect x="197.05" y="674.05" width="1" height="1" fill="#173250"/><rect x="199.05" y="679.05" width="1" height="1" fill="#173250"/><rect x="197.05" y="683.05" width="1" height="1" fill="#6a98c4"/><rect x="199.05" y="687.05" width="1" height="1" fill="#173250"/><rect x="197.05" y="691.05" width="1" height="1" fill="#173250"/><rect x="199.05" y="695.05" width="1" height="1" fill="#173250"/><rect x="197.05" y="699.05" width="1" height="1" fill="#6a98c4"/><rect x="199.05" y="703.05" width="1" height="1" fill="#173250"/><rect x="197.05" y="707.05" width="1" height="1" fill="#173250"/><rect x="199.05" y="711.05" width="1" height="1" fill="#173250"/><rect x="197.05" y="715.05" width="1" height="1" fill="#6a98c4"/><rect x="199.05" y="720.05" width="1" height="1" fill="#173250"/><rect x="197.05" y="724.05" width="1" height="1" fill="#173250"/><rect x="199.05" y="728.05" width="1" height="1" fill="#173250"/><rect x="197.05" y="732.05" width="1" height="1" fill="#6a98c4"/><rect x="199.05" y="736.05" width="1" height="1" fill="#173250"/><rect x="197.05" y="740.05" width="1" height="1" fill="#173250"/><rect x="199.05" y="744.05" width="1" height="1" fill="#173250"/>
<line x1="226.5" y1="729.5" x2="226.5" y2="734.6" stroke="#000" stroke-width="1.15"/>
<line x1="224.0" y1="729.5" x2="229.0" y2="729.5" stroke="#000" stroke-width="1.15"/>
<rect x="222.96" y="734.6" width="8.4" height="14.3" fill="#0070c0" stroke="#000" stroke-width="1.15"/>
<rect x="226.05" y="737.05" width="1" height="1" fill="#173250"/><rect x="228.05" y="741.05" width="1" height="1" fill="#173250"/><rect x="225.05" y="746.05" width="1" height="1" fill="#6a98c4"/>
<line x1="276.5" y1="702.5" x2="276.5" y2="721.95" stroke="#555" stroke-width="1.15"/>
<line x1="274.0" y1="702.5" x2="279.0" y2="702.5" stroke="#555" stroke-width="1.15"/>
<rect x="272.48" y="721.95" width="8.4" height="26.95" fill="#ff0000" stroke="#000" stroke-width="1.15"/>
<rect x="280.88" y="746.7" width="8.4" height="2.2" fill="#0070c0" stroke="#000" stroke-width="1.15"/>
<rect x="301.44" y="747.25" width="8.4" height="1.65" fill="#ff0000" stroke="#000" stroke-width="1.15"/>
<text x="184.5" y="636.5" font-size="8.5" font-weight="bold" textLength="13" lengthAdjust="spacing" stroke="#000" stroke-width="0.55" stroke-linejoin="round">***</text>
<text x="193.5" y="618.2" font-size="8.5" font-weight="bold" textLength="13" lengthAdjust="spacing" stroke="#000" stroke-width="0.55" stroke-linejoin="round">***</text>
<text x="25.1" y="769.2" font-size="10" font-weight="bold" font-style="normal" fill="#000" text-anchor="start" textLength="35.6" lengthAdjust="spacingAndGlyphs">128738</text>
<text x="113.6" y="769.2" font-size="10" font-weight="bold" font-style="normal" fill="#000" text-anchor="start" textLength="35.6" lengthAdjust="spacingAndGlyphs">128757</text>
<text x="202.6" y="769.2" font-size="10" font-weight="bold" font-style="normal" fill="#000" text-anchor="start" textLength="35.6" lengthAdjust="spacingAndGlyphs">128788</text>
<text x="286.8" y="769.2" font-size="10" font-weight="bold" font-style="normal" fill="#000" text-anchor="start" textLength="35.6" lengthAdjust="spacingAndGlyphs">128807</text>
<line x1="340.8" y1="346.8" x2="347.1" y2="324.4" stroke="#111" stroke-width="0.7"/>
<line x1="345.40000000000003" y1="346.8" x2="351.70000000000005" y2="324.4" stroke="#111" stroke-width="0.7"/>
<line x1="447.3" y1="346.8" x2="453.6" y2="324.4" stroke="#111" stroke-width="0.7"/>
<line x1="451.90000000000003" y1="346.8" x2="458.20000000000005" y2="324.4" stroke="#111" stroke-width="0.7"/>
<line x1="355" y1="335.9" x2="440" y2="335.9" stroke="#5a5a5a" stroke-width="1.5"/>
<line x1="466" y1="335.9" x2="545.7" y2="335.9" stroke="#5a5a5a" stroke-width="1.5"/>
<polygon points="371.3,333.0 396.7,333.0 396.7,330.09999999999997 406.6,335.9 396.7,341.7 396.7,338.79999999999995 371.3,338.79999999999995" fill="#0000ff"/>
<polygon points="492,335.9 503.8,330.0 503.8,332.9 536.3,332.9 536.3,338.9 503.8,338.9 503.8,341.79999999999995" fill="#009900"/>
<line x1="503.8" y1="336.09999999999997" x2="536.3" y2="336.09999999999997" stroke="#0a5a0a" stroke-width="0.6" stroke-dasharray="1 1.8"/>
<line x1="369" y1="300.5" x2="369" y2="334.5" stroke="#eee8df" stroke-width="2"/>
<polyline points="365.4,330.0 369,334.7 372.6,330.0" fill="none" stroke="#eee8df" stroke-width="1.5"/>
<text x="348.6" y="297" font-size="10.6" font-weight="bold" font-style="italic" fill="#f79646" text-anchor="start" textLength="36.5" lengthAdjust="spacingAndGlyphs">Pitx2ab</text>
<text x="350.7" y="356.6" font-size="9.8" font-weight="bold" font-style="normal" fill="#000" text-anchor="start" textLength="34.9" lengthAdjust="spacingAndGlyphs">128899</text>
<line x1="340.8" y1="556.5" x2="347.1" y2="534" stroke="#111" stroke-width="0.7"/>
<line x1="345.40000000000003" y1="556.5" x2="351.70000000000005" y2="534" stroke="#111" stroke-width="0.7"/>
<line x1="447.3" y1="556.5" x2="453.6" y2="534" stroke="#111" stroke-width="0.7"/>
<line x1="451.90000000000003" y1="556.5" x2="458.20000000000005" y2="534" stroke="#111" stroke-width="0.7"/>
<line x1="354.8" y1="545.4" x2="439.6" y2="545.4" stroke="#000" stroke-width="1.25"/>
<line x1="465.3" y1="545.4" x2="545.7" y2="545.4" stroke="#000" stroke-width="1.25"/>
<polygon points="371.3,542.5 394.5,542.5 394.5,539.6 406.2,545.4 394.5,551.1999999999999 394.5,548.3 371.3,548.3" fill="#0000ff"/>
<polygon points="491,545.4 503.4,539.5 503.4,542.4 535.9,542.4 535.9,548.4 503.4,548.4 503.4,551.3" fill="#009900"/>
<line x1="503.4" y1="545.6" x2="535.9" y2="545.6" stroke="#0a5a0a" stroke-width="0.6" stroke-dasharray="1 1.8"/>
<line x1="390.3" y1="506.5" x2="390.3" y2="542.2" stroke="#eee8df" stroke-width="2"/>
<polyline points="386.7,537.7 390.3,542.4000000000001 393.90000000000003,537.7" fill="none" stroke="#eee8df" stroke-width="1.5"/>
<text x="373.4" y="503.3" font-size="10.6" font-weight="bold" font-style="italic" fill="#ff0000" text-anchor="start" textLength="29" lengthAdjust="spacingAndGlyphs">Pitx2c</text>
<text x="370.6" y="564.8" font-size="9.8" font-weight="bold" font-style="normal" fill="#000" text-anchor="start" textLength="34.7" lengthAdjust="spacingAndGlyphs">128916</text>
<line x1="341.3" y1="758.5" x2="347.6" y2="735.2" stroke="#111" stroke-width="0.7"/>
<line x1="345.90000000000003" y1="758.5" x2="352.20000000000005" y2="735.2" stroke="#111" stroke-width="0.7"/>
<line x1="447.8" y1="758.5" x2="454.1" y2="735.2" stroke="#111" stroke-width="0.7"/>
<line x1="452.40000000000003" y1="758.5" x2="458.70000000000005" y2="735.2" stroke="#111" stroke-width="0.7"/>
<line x1="356" y1="747.1" x2="440" y2="747.1" stroke="#000" stroke-width="1.25"/>
<line x1="466.2" y1="747.1" x2="537" y2="747.1" stroke="#000" stroke-width="1.25"/>
<polygon points="372.3,744.2 395.6,744.2 395.6,741.3000000000001 406.6,747.1 395.6,752.9 395.6,750.0 372.3,750.0" fill="#0000ff"/>
<polygon points="491.5,747.1 503.4,741.2 503.4,744.1 536.5,744.1 536.5,750.1 503.4,750.1 503.4,753.0" fill="#009900"/>
<line x1="503.4" y1="747.3000000000001" x2="536.5" y2="747.3000000000001" stroke="#0a5a0a" stroke-width="0.6" stroke-dasharray="1 1.8"/>
<line x1="537" y1="747.1" x2="545.3" y2="747.1" stroke="#777" stroke-width="1.25"/>
<line x1="537.4" y1="709" x2="537.4" y2="745" stroke="#eee8df" stroke-width="2"/>
<polyline points="533.8,740.5 537.4,745.2 541.0,740.5" fill="none" stroke="#eee8df" stroke-width="1.5"/>
<text x="520.2" y="703.9" font-size="10.2" font-weight="bold" font-style="normal" fill="#00b050" text-anchor="start" textLength="29.5" lengthAdjust="spacingAndGlyphs">Enpep</text>
<text x="518.8" y="769.2" font-size="9.8" font-weight="bold" font-style="normal" fill="#000" text-anchor="start" textLength="33.5" lengthAdjust="spacingAndGlyphs">129030</text>
<text x="314.1" y="783.9" font-size="7.4" font-weight="bold" font-style="normal" fill="#000" text-anchor="start" textLength="45.7" lengthAdjust="spacingAndGlyphs">position (kb)</text>
</svg>
</body>
</html>
